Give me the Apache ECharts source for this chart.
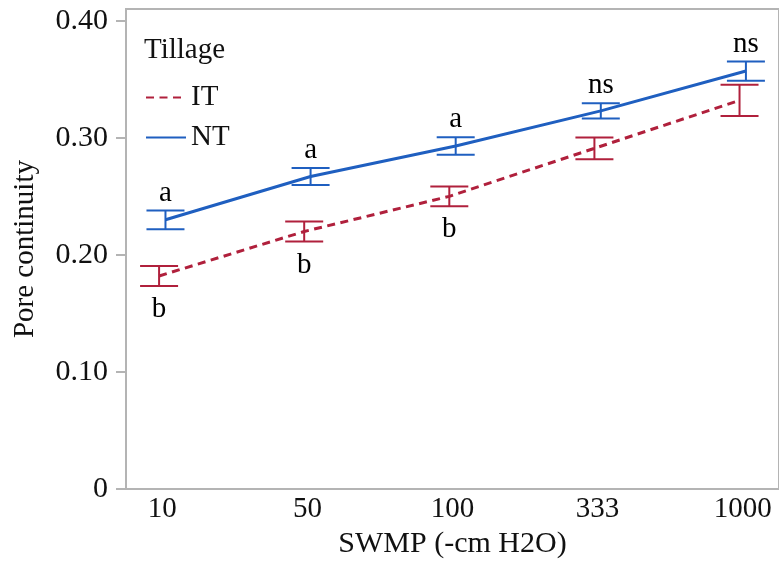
<!DOCTYPE html>
<html>
<head>
<meta charset="utf-8">
<script src="https://cdn.jsdelivr.net/npm/echarts@6/dist/echarts.min.js"></script>
<style>
  html, body { margin: 0; padding: 0; background: #fff; }
  #chart { width: 779px; height: 564px; }
</style>
</head>
<body>
<div id="chart"></div>
<script>
// Soil water matric potential levels (x categories)
const swmp = ['10', '50', '100', '333', '1000'];

// Pore continuity, mean and error per tillage system
const itMean = [0.182, 0.220, 0.250, 0.291, 0.332];
const itErr  = [0.0085, 0.0085, 0.0085, 0.0093, 0.0133];
const ntMean = [0.230, 0.267, 0.293, 0.323, 0.357];
const ntErr  = [0.0080, 0.0072, 0.0074, 0.0066, 0.0082];

// Significance letters
const ntLetters = ['a', 'a', 'a', 'ns', 'ns'];
const itLetters = ['b', 'b', 'b', '', ''];

// Y tick values
const yTicks = [0, 0.1, 0.2, 0.3, 0.4];

const FONT = '"Liberation Serif", "Times New Roman", serif';
const RED = '#b0203c';
const BLUE = '#1f5fc0';
const AXIS = '#b4b4b4';
const DODGE = 0.022;

const xIdx = swmp.map((_, i) => i);

function lineData(means, shift) {
  return means.map((m, i) => [i + shift, m]);
}
function barData(means, errs, shift) {
  return means.map((m, i) => [i + shift, m - errs[i], m + errs[i]]);
}

// Error bar with caps, plus a significance letter above or below it
function errorRenderer(color, letters, above) {
  return function (params, api) {
    const x = api.value(0);
    const lo = api.coord([x, api.value(1)]);
    const hi = api.coord([x, api.value(2)]);
    const label = letters[params.dataIndex];
    const half = 19;
    const ls = { stroke: color, lineWidth: 2 };
    const children = [
      { type: 'line', shape: { x1: hi[0], y1: hi[1], x2: lo[0], y2: lo[1] }, style: ls },
      { type: 'line', shape: { x1: hi[0] - half, y1: hi[1], x2: hi[0] + half, y2: hi[1] }, style: ls },
      { type: 'line', shape: { x1: lo[0] - half, y1: lo[1], x2: lo[0] + half, y2: lo[1] }, style: ls }
    ];
    if (label) {
      children.push({
        type: 'text',
        style: {
          text: label,
          x: hi[0],
          y: above ? hi[1] - 3 : lo[1] + 9,
          align: 'center',
          verticalAlign: above ? 'bottom' : 'top',
          font: '29px ' + FONT,
          fill: '#000'
        }
      });
    }
    return { type: 'group', children };
  };
}

const chart = echarts.init(document.getElementById('chart'), null, { renderer: 'canvas' });

chart.setOption({
  backgroundColor: '#fff',
  animation: false,
  title: {
    text: 'Tillage',
    left: 144,
    top: 36,
    padding: 0,
    textStyle: { fontFamily: FONT, fontSize: 29, fontWeight: 'normal', color: '#111' }
  },
  legend: {
    data: ['IT', 'NT'],
    orient: 'vertical',
    left: 145,
    top: 83,
    padding: 0,
    itemWidth: 40,
    itemHeight: 14,
    itemGap: 11,
    itemStyle: { opacity: 0 },
    textStyle: { fontFamily: FONT, fontSize: 29, color: '#111' }
  },
  grid: {
    left: 126,
    right: -7,
    top: 9,
    bottom: 73,
    show: true,
    borderColor: AXIS,
    borderWidth: 2,
    containLabel: false
  },
  xAxis: {
    type: 'value',
    min: -0.25,
    max: 4.25,
    splitLine: { show: false },
    axisLine: { show: true, onZero: false, lineStyle: { color: AXIS, width: 2 } },
    axisTick: { show: false },
    axisLabel: {
      customValues: xIdx,
      formatter: v => swmp[Math.round(v)],
      fontFamily: FONT,
      fontSize: 29,
      color: '#111',
      margin: 6
    },
    name: 'SWMP (-cm H2O)',
    nameLocation: 'middle',
    nameGap: 38,
    nameTextStyle: { fontFamily: FONT, fontSize: 30, color: '#111' }
  },
  yAxis: {
    type: 'value',
    min: 0,
    max: 0.41,
    splitLine: { show: false },
    axisLine: { show: true, onZero: false, lineStyle: { color: AXIS, width: 2 } },
    axisTick: { show: true, customValues: yTicks, length: 10, lineStyle: { color: AXIS, width: 2 } },
    axisLabel: {
      customValues: yTicks,
      formatter: v => (v === 0 ? '0' : v.toFixed(2)),
      fontFamily: FONT,
      fontSize: 30,
      color: '#111',
      margin: 18
    },
    name: 'Pore continuity',
    nameLocation: 'middle',
    nameGap: 86,
    nameTextStyle: { fontFamily: FONT, fontSize: 29, color: '#111' }
  },
  series: [
    {
      name: 'IT',
      type: 'line',
      data: lineData(itMean, -DODGE),
      symbol: 'none',
      color: RED,
      lineStyle: { color: RED, width: 3, type: [8, 5.5] },
      z: 3
    },
    {
      name: 'NT',
      type: 'line',
      data: lineData(ntMean, DODGE),
      symbol: 'none',
      color: BLUE,
      lineStyle: { color: BLUE, width: 3, type: 'solid' },
      z: 3
    },
    {
      name: 'IT error',
      type: 'custom',
      renderItem: errorRenderer(RED, itLetters, false),
      data: barData(itMean, itErr, -DODGE),
      encode: { x: 0, y: [1, 2] },
      z: 4
    },
    {
      name: 'NT error',
      type: 'custom',
      renderItem: errorRenderer(BLUE, ntLetters, true),
      data: barData(ntMean, ntErr, DODGE),
      encode: { x: 0, y: [1, 2] },
      z: 4
    }
  ]
});
</script>
</body>
</html>
